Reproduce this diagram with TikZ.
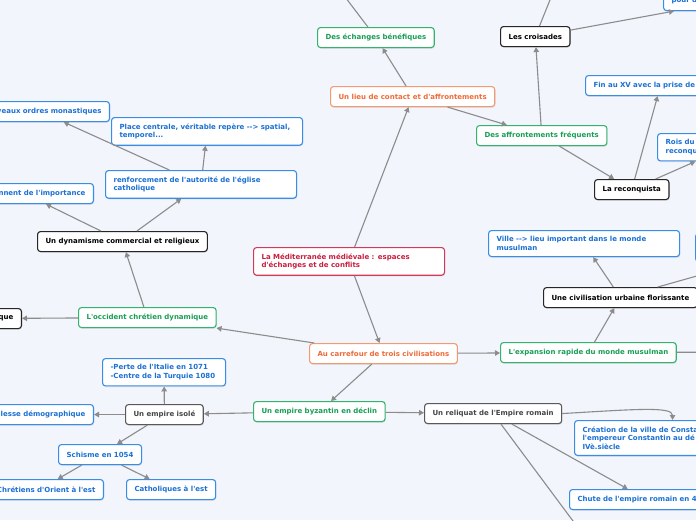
\documentclass[tikz,border=0pt]{standalone}
\usepackage{fontspec}
\newfontfamily\mapfont{DejaVu Sans}[Ligatures=TeXOff]
\usetikzlibrary{arrows.meta, shadows}
\definecolor{mapbg}{HTML}{F2F5FC}
\definecolor{linkgray}{HTML}{8C8C8C}
\definecolor{ideablue}{HTML}{3A8DE6}
\definecolor{ideatext}{HTML}{1B70D4}
\definecolor{themegreen}{HTML}{33B46E}
\definecolor{themetext}{HTML}{179E55}
\definecolor{axisorange}{HTML}{F29A72}
\definecolor{axistext}{HTML}{EF6A38}
\definecolor{rootred}{HTML}{D23A58}
\definecolor{roottext}{HTML}{C81E3E}
\definecolor{dimtext}{HTML}{454545}

\begin{document}
\begin{tikzpicture}[
      x=1pt, y=-1pt,
      every node/.style={font=\mapfont\bfseries\fontsize{7}{8.6}\selectfont},
      topic/.style={draw, rounded corners=3pt, fill=white, line width=1.1pt,
        inner xsep=8pt, inner ysep=6pt, minimum height=20pt, anchor=north west,
        drop shadow={opacity=0.18, shadow xshift=0.6pt, shadow yshift=-1.2pt}},
      idea/.style={topic, draw=ideablue, text=ideatext, align=left},
      theme/.style={topic, draw=themegreen, text=themetext},
      axisbox/.style={topic, draw=axisorange, text=axistext},
      rootbox/.style={topic, draw=rootred, text=roottext, align=left},
      keynode/.style={topic, draw=black!85, text=black},
      dimnode/.style={topic, draw=black!65, text=dimtext},
      link/.style={draw=linkgray, line width=1.1pt, ->},
      >={Triangle[length=5pt, width=5.5pt]},
    ]
    \useasboundingbox (0,0) rectangle (696,520);
    \fill[mapbg] (0,0) rectangle (696,520);
    \clip (0,0) rectangle (696,520);

    % centre and first level
    \node[rootbox, text width=175pt] (root) at (253,247) {La Méditerranée médiévale : espaces\\d'échanges et de conflits};
    \node[axisbox, minimum width=147pt] (carrefour) at (309,343) {Au carrefour de trois civilisations};
    \node[axisbox, minimum width=163pt] (lieu) at (330,86) {Un lieu de contact et d'affrontements};

    % contact et affrontements
    \node[theme, minimum width=115pt] (echanges) at (317,27) {Des échanges bénéfiques};
    \node[theme, minimum width=129pt] (affront) at (476,125) {Des affrontements fréquents};
    \node[keynode, minimum width=69pt] (croisades) at (500,26) {Les croisades};
    \node[idea, text width=120pt] (pour) at (663,-10) {pour d};
    \node[keynode, minimum width=74pt] (reconq) at (594,179) {La reconquista};
    \node[idea, text width=134pt] (finxv) at (585,75) {Fin au XV avec la prise de};
    \node[idea, text width=124pt] (rois) at (657,133) {Rois du\\reconqu};

    % monde musulman
    \node[theme, minimum width=174pt] (expans) at (500,342) {L'expansion rapide du monde musulman};
    \node[keynode, minimum width=152pt] (civil) at (543,287) {Une civilisation urbaine florissante};
    \node[idea, text width=175pt] (ville) at (488,230) {Ville -{}-> lieu important dans le monde\\musulman};
    \node[idea, minimum width=204pt, minimum height=28pt] (hidden) at (695,233) {};

    % empire byzantin
    \node[theme, minimum width=130pt] (byzan) at (253,401) {Un empire byzantin en déclin};
    \node[dimnode, minimum width=136pt] (reliq) at (424,403) {Un reliquat de l'Empire romain};
    \node[idea, text width=180pt] (creation) at (574,420) {Création de la ville de Consta\\l'empereur Constantin au dé\\IVè.siècle};
    \node[idea, text width=138pt] (chute) at (569,489) {Chute de l'empire romain en 4};
    \node[dimnode, minimum width=77pt] (isole) at (125,404) {Un empire isolé};
    \node[idea, text width=107pt] (perte) at (102,358) {-Perte de l'Italie en 1071\\-Centre de la Turquie 1080};
    \node[idea, text width=104pt, align=right, anchor=north east] (faible) at (94,404) {lesse démographique};
    \node[idea, minimum width=83pt] (schisme) at (58,444) {Schisme en 1054};
    \node[idea, text width=112pt, align=right, anchor=north east] (orient) at (104,479) {Chrétiens d'Orient à l'est};
    \node[idea, minimum width=88pt] (cathol) at (126,479) {Catholiques à l'est};

    % occident chretien
    \node[theme, minimum width=136pt] (occid) at (78,307) {L'occident chrétien dynamique};
    \node[keynode, text width=64pt, align=right, anchor=north east] (que) at (22,308) {que};
    \node[keynode, minimum width=168pt] (dynam) at (37,231) {Un dynamisme commercial et religieux};
    \node[idea, text width=122pt, align=right, anchor=north east] (nnent) at (94,183) {nnent de l'importance};
    \node[idea, text width=175pt] (renfo) at (105,170) {renforcement de l'autorité de l'église\\catholique};
    \node[idea, text width=122pt, align=right, anchor=north east] (veaux) at (110,101) {veaux ordres monastiques};
    \node[idea, text width=175pt] (place) at (111,117) {Place centrale, véritable repère -{}-> spatial,\\temporel...};

    % branches leaving the frame
    \coordinate (offA) at (336,-15);
    \coordinate (offB) at (556,-15);
    \coordinate (offC) at (760,352);
    \coordinate (offD) at (602,560);
    \coordinate (offE) at (-20,436);

    \draw[link] (root) -- (carrefour);
    \draw[link] (root) -- (lieu);
    \draw[link] (lieu) -- (echanges);
    \draw[link] (lieu) -- (affront);
    \draw[link] (echanges) -- (offA);
    \draw[link] (affront) -- (croisades);
    \draw[link] (affront) -- (reconq);
    \draw[link] (croisades) -- (offB);
    \draw[link] (croisades) -- (pour);
    \draw[link] (reconq) -- (finxv);
    \draw[link] (reconq) -- (rois);
    \draw[link] (carrefour) -- (expans);
    \draw[link] (expans) -- (civil);
    \draw[link] (expans) -- (offC);
    \draw[link] (civil) -- (ville);
    \draw[link] (civil) -- (hidden);
    \draw[link] (carrefour) -- (byzan);
    \draw[link] (carrefour) -- (occid);
    \draw[link] (byzan) -- (reliq);
    \draw[link] (byzan) -- (isole);
    \draw[link] (reliq.east) .. controls +(70,-4) and +(0,-14) .. (creation.north);
    \draw[link] (reliq) -- (chute);
    \draw[link] (reliq) -- (offD);
    \draw[link] (isole) -- (perte);
    \draw[link] (isole) -- (faible);
    \draw[link] (isole) -- (schisme);
    \draw[link] (faible.south west) -- (offE);
    \draw[link] (schisme) -- (orient);
    \draw[link] (schisme) -- (cathol);
    \draw[link] (occid) -- (que);
    \draw[link] (occid) -- (dynam);
    \draw[link] (dynam) -- (nnent);
    \draw[link] (dynam) -- (renfo);
    \draw[link] (renfo) -- (veaux);
    \draw[link] (renfo) -- (place);
  \end{tikzpicture}
\end{document}
